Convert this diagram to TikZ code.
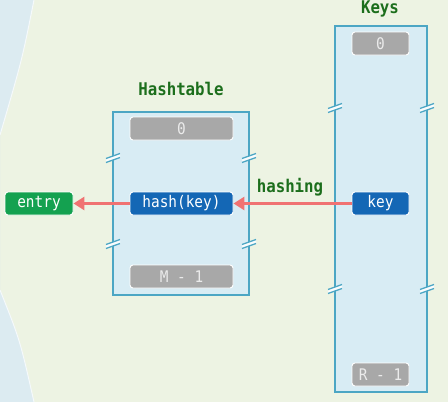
\documentclass[tikz,border=0pt]{standalone}
\usepackage{fontspec}
\newfontfamily\cellfont{DejaVu Sans Mono}[FakeStretch=0.9]
\usetikzlibrary{arrows.meta}
\definecolor{bggreen}{HTML}{EDF3E3}
\definecolor{bgblue}{HTML}{DCEBF1}
\definecolor{boxfill}{HTML}{D8ECF4}
\definecolor{boxline}{HTML}{4CA6C4}
\definecolor{cellgray}{HTML}{A8A8A8}
\definecolor{cellblue}{HTML}{1467B5}
\definecolor{cellgreen}{HTML}{14A150}
\definecolor{titlegreen}{HTML}{1C6E1C}
\definecolor{arrowred}{HTML}{F07272}
\newcommand\brkmark[2]{%
  \fill[white!85!boxfill] ({#1-7},{#2+1.5}) -- ({#1+7},{#2-3.5}) -- ({#1+7},{#2+0.5}) -- ({#1-7},{#2+5.5}) -- cycle;
  \draw[boxline,line width=1.3pt] ({#1-7},{#2+1.5}) -- ({#1+7},{#2-3.5});
  \draw[boxline,line width=1.3pt] ({#1-7},{#2+5.5}) -- ({#1+7},{#2+0.5});
}
\tikzset{
  cell/.style={rounded corners=3pt,draw=white,line width=0.9pt,minimum height=23pt,inner sep=0pt,font=\cellfont\fontsize{16}{16}\selectfont,text=white},
  graycell/.style={cell,fill=cellgray,text=white!92!black,minimum width=103pt},
  bluecell/.style={cell,fill=cellblue},
  table/.style={draw=boxline,fill=boxfill,line width=1.5pt,inner sep=0pt},
  title/.style={font=\cellfont\bfseries\fontsize{17.5}{17.5}\selectfont,text=titlegreen,anchor=base},
  flow/.style={draw=arrowred,line width=3.5pt,-{Triangle[length=11pt,width=13pt]}}
}
\begin{document}
\begin{tikzpicture}[x=1pt,y=-1pt]
\useasboundingbox (0,0) rectangle (448,402);
\fill[bggreen] (0,0) rectangle (448,402);
\fill[bgblue] (0,0) -- (34,0) .. controls (22,60) .. (0,135) -- (0,290) .. controls (20,340) .. (34,402) -- (0,402) -- cycle;
\draw[white!70!bgblue,line width=1pt] (34,0) .. controls (22,60) .. (0,135);
\draw[white!70!bgblue,line width=1pt] (0,290) .. controls (20,340) .. (34,402);
% Hashtable
\node[table,minimum width=136pt,minimum height=183pt] (ht) at (181,203.5) {};
\node[title] (httitle) at (181,95.5) {Hashtable};
\node[graycell] (c0) at (181.5,128.5) {0};
\node[bluecell,minimum width=103pt] (hk) at (181.5,203.5) {hash(key)};
\node[graycell] (m1) at (181.5,276.5) {M - 1};
\brkmark{113}{157}\brkmark{249}{157}
\brkmark{113}{243}\brkmark{249}{243}
% Keys
\node[table,minimum width=92pt,minimum height=366pt] (keys) at (381,209) {};
\node[title] (keystitle) at (380,13.5) {Keys};
\node[graycell,minimum width=57pt] (k0) at (380.5,43.5) {0};
\node[bluecell,minimum width=57pt] (key) at (380.5,203.5) {key};
\node[graycell,minimum width=57pt] (r1) at (380.5,374.5) {R - 1};
\brkmark{335}{107}\brkmark{427}{107}
\brkmark{335}{288}\brkmark{427}{288}
% entry
\node[cell,fill=cellgreen,minimum width=68pt] (entry) at (39,203.5) {entry};
% arrows
\draw[flow] (key.west) -- (hk.east);
\draw[flow] (hk.west) -- (entry.east);
\node[title] (hashing) at (290,192) {hashing};
\end{tikzpicture}
\end{document}
